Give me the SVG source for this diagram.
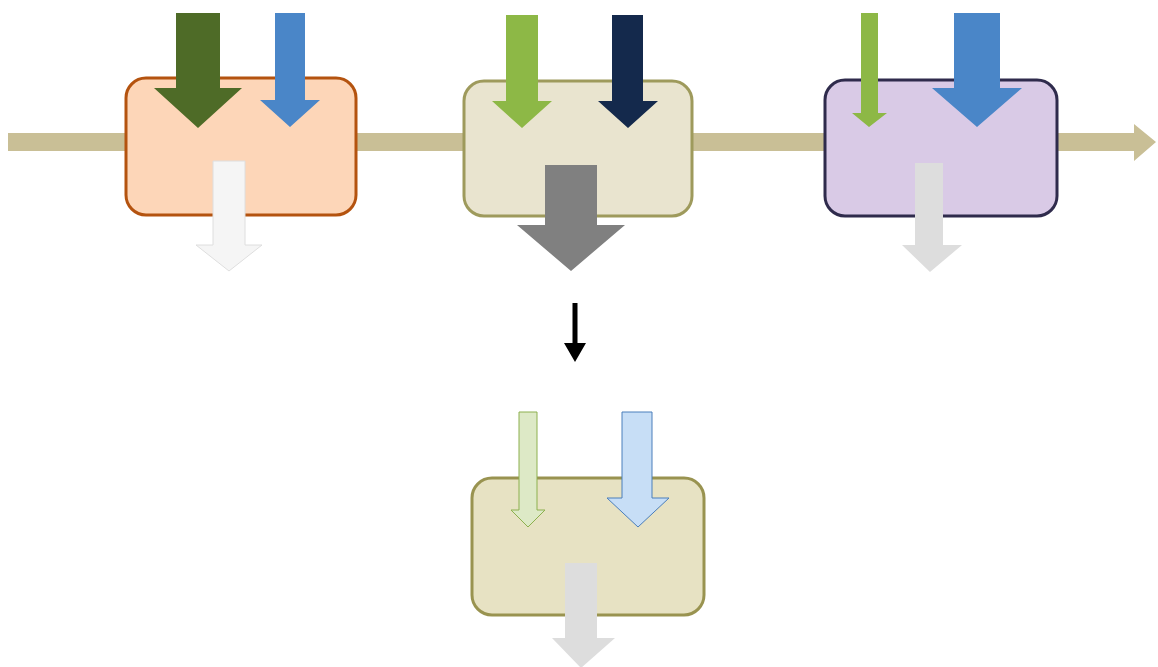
<svg xmlns="http://www.w3.org/2000/svg" width="1158" height="667" viewBox="0 0 1158 667">
<style>
.box{stroke-width:3}
.b1{fill:#FDD6B8;stroke:#B4530F}
.b2{fill:#E9E4CF;stroke:#9E9A5C}
.b3{fill:#D9CAE6;stroke:#2F2B4C}
.b4{fill:#E7E2C3;stroke:#999350}
.dg{fill:#4E6B27}
.bl{fill:#4A86C8}
.lg{fill:#8DB846}
.nv{fill:#14294C}
.gr{fill:#808080}
.wh{fill:#F5F5F5;stroke:#DEDEDE;stroke-width:1}
.lgy{fill:#DDDDDD}
.pg{fill:#DDE9C6;stroke:#8DB04E;stroke-width:1}
.pb{fill:#C7DEF6;stroke:#4A7EBB;stroke-width:1}
.blk{fill:#000}
</style>
<rect width="1158" height="667" fill="#FFFFFF"/>
<g id="flow">
<polygon points="8,133 1134,133 1134,124 1156,142 1134,161 1134,151 8,151" fill="#C9BF96"/>
</g>
<g id="node1"><rect class="box b1" x="126" y="78" width="230" height="137" rx="20"/></g>
<g id="node2"><rect class="box b2" x="464" y="81" width="228" height="135" rx="20"/></g>
<g id="node3"><rect class="box b3" x="825" y="80" width="232" height="136" rx="20"/></g>
<g id="node4"><rect class="box b4" x="472" y="478" width="232" height="137" rx="20"/></g>
<g id="connectors">
<polygon class="dg" points="176,13 220,13 220,88 242,88 198,128 154,88 176,88"/>
<polygon class="bl" points="275,13 305,13 305,100 320,100 290,127 260,100 275,100"/>
<polygon class="wh" points="213,161 245,161 245,245 262,245 229,271 196,245 213,245"/>
<polygon class="lg" points="506,15 538,15 538,101 552,101 522,128 492,101 506,101"/>
<polygon class="nv" points="612,15 643,15 643,101 658,101 628,128 598,101 612,101"/>
<polygon class="gr" points="545,165 597,165 597,225 625,225 571,271 517,225 545,225"/>
<polygon class="lg" points="861,13 878,13 878,113 887,113 869,127 852,113 861,113"/>
<polygon class="bl" points="954,13 1000,13 1000,88 1022,88 977,127 932,88 954,88"/>
<polygon class="lgy" points="915,163 943,163 943,245 962,245 930,272 902,245 915,245"/>
<polygon class="blk" points="572.5,303 577.5,303 577.5,343 586,343 575,362 564,343 572.5,343"/>
<polygon class="pg" points="519,412 537,412 537,510 545,510 528,527 511,510 519,510"/>
<polygon class="pb" points="622,412 652,412 652,498 669,498 638,527 607,498 622,498"/>
<polygon class="lgy" points="565,563 597,563 597,638 615,638 581,668 552,638 565,638"/>
</g>
</svg>
